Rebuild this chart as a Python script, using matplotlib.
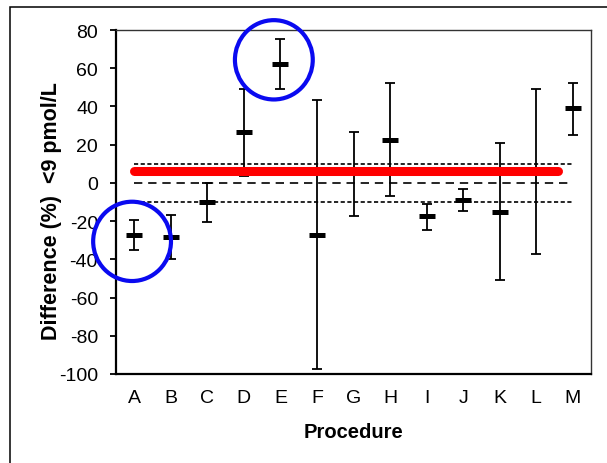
import numpy as np
import matplotlib.pyplot as plt
from matplotlib.patches import Ellipse, Rectangle

# data
procedures = ['A', 'B', 'C', 'D', 'E', 'F', 'G', 'H', 'I', 'J', 'K', 'L', 'M']
means = [-27.5, -28.3, -10.0, 26.6, 62.3, -27.5, 5.0, 22.4, -17.5, -9.1, -15.2, 5.0, 39.2]
upper = [-19.4, -16.8, 0.0, 49.2, 75.5, 43.4, 26.6, 52.3, -10.9, -3.3, 20.7, 49.2, 52.3]
lower = [-35.0, -40.0, -20.5, 3.4, 49.2, -97.3, -17.5, -6.6, -24.8, -14.9, -50.6, -37.4, 25.0]
target = 6.0
limit = 10.0

plt.rcParams['font.family'] = ['Liberation Sans', 'DejaVu Sans']
plt.rcParams['axes.unicode_minus'] = False

W, H = 607, 464
fig = plt.figure(figsize=(W / 100, H / 100), dpi=100)
ax = fig.add_axes([116 / W, 1 - 375 / H, (591 - 116) / W, (375 - 31) / H])

x = np.arange(len(procedures))
means = np.array(means)
yerr = [means - np.array(lower), np.array(upper) - means]

# reference lines
ax.plot([0, 12], [limit, limit], color='black', lw=1.2, ls=(0, (2.5, 1.5)), zorder=2)
ax.plot([0, 12], [-limit, -limit], color='black', lw=1.2, ls=(0, (2.5, 1.5)), zorder=2)
ax.plot([0, 12], [0, 0], color='black', lw=1.2, ls=(0, (5, 3.5)), zorder=2)

ax.errorbar(x, means, yerr=yerr, fmt='none', ecolor='black', elinewidth=1.3,
            capsize=3.4, capthick=1.3, zorder=3)
ax.plot(x, means, ls='none', marker='_', ms=11.5, mew=3.6, color='black', zorder=4)

# red line for the target difference
ax.plot([0, 11.6], [target, target], color='red', lw=6.5, solid_capstyle='round', zorder=5)

# blue circles
ax.add_patch(Ellipse((3.82, 64.4), 2.13, 41.5, fill=False, ec='#0A0AF0', lw=3,
                     clip_on=False, zorder=6))
ax.add_patch(Ellipse((-0.06, -30.6), 2.13, 41.5, fill=False, ec='#0A0AF0', lw=3,
                     clip_on=False, zorder=6))

ax.set_xlim(-0.5, 12.5)
ax.set_ylim(-100, 80)
ax.set_yticks(np.arange(-100, 81, 20))
ax.set_xticks(x)
ax.set_xticklabels(procedures)
ax.tick_params(axis='y', direction='out', length=4.5, width=1.3, labelsize=14, pad=8.5)
ax.tick_params(axis='x', length=0, labelsize=14, pad=11)

for s in ['left', 'bottom']:
    ax.spines[s].set_linewidth(1.6)
for s in ['top', 'right']:
    ax.spines[s].set_linewidth(1.0)
    ax.spines[s].set_color('#333333')

fig.text(353 / W, 1 - 433 / H, 'Procedure', ha='center', va='center',
         fontsize=14.5, fontweight='bold')
fig.text(52 / W, 1 - 211 / H, 'Difference (%)  <9 pmol/L', ha='center', va='center',
         rotation=90, fontsize=15.5, fontweight='bold')

# outer chart frame
fig.add_artist(Rectangle((10 / W, -0.1), 1.2, 1 - 8 / H + 0.1, transform=fig.transFigure,
                         fill=False, ec='black', lw=1.1))

fig.savefig('out.png', dpi=100)
